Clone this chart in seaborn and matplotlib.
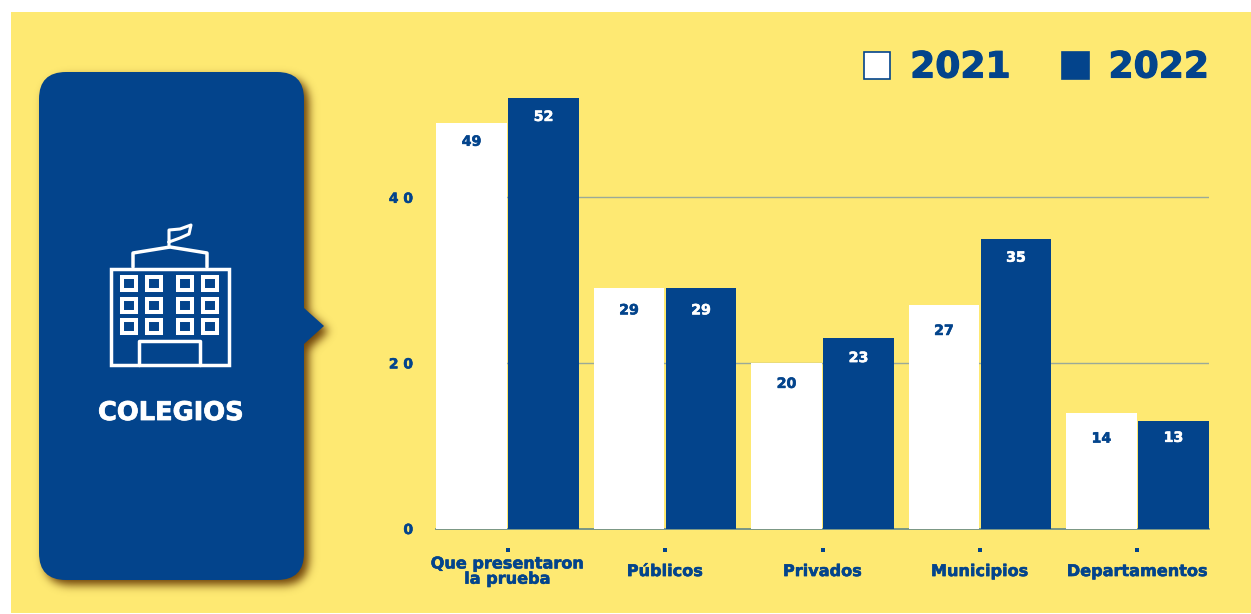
import numpy as np
import pandas as pd
import matplotlib
matplotlib.use("Agg")
import matplotlib.pyplot as plt
import matplotlib.patheffects as pe
import seaborn as sns
from matplotlib.patches import Patch, PathPatch, Rectangle
from matplotlib.path import Path

categories = ["Que presentaron\nla prueba", "Públicos", "Privados", "Municipios", "Departamentos"]
values_2021 = [49, 29, 20, 27, 14]
values_2022 = [52, 29, 23, 35, 13]
years = ["2021", "2022"]
y_ticks = [0, 20, 40]
y_tick_labels = ["0", "2 0", "4 0"]

# Drop of each value label below its bar top, in pixels
label_drop_2021 = [19, 22, 21, 26, 26]
label_drop_2022 = [19, 22, 20, 19, 17]

YELLOW = "#FEE972"
BLUE = "#03448C"
GRID = "#9BAA98"
BASELINE = "#6F9088"
FONT = "DejaVu Sans"
W, H = 1251, 614

sns.set_theme(style="white")
plt.rcParams["font.family"] = [FONT]


def heavy(colour, width=0.5):
    """Thicken glyphs with a thin outline in their own colour."""
    return [pe.withStroke(linewidth=width, foreground=colour)]


fig = plt.figure(figsize=(W / 100, H / 100), dpi=100, facecolor="white")

# Backdrop layer, addressed in pixels from the top-left corner
bg = fig.add_axes([0, 0, 1, 1], zorder=0)
bg.set_xlim(0, W)
bg.set_ylim(H, 0)
bg.axis("off")
bg.add_patch(Rectangle((11, 12), W - 11, 601, facecolor=YELLOW, edgecolor="none"))


def panel_path(x0=39, x1=304, y0=72, y1=580, r=27):
    """Rounded card with a small pointer on its right edge."""
    verts = [
        (x0 + r, y0), (x1 - r, y0), (x1, y0), (x1, y0 + r),
        (x1, 308), (324, 326), (x1, 344),
        (x1, y1 - r), (x1, y1), (x1 - r, y1),
        (x0 + r, y1), (x0, y1), (x0, y1 - r),
        (x0, y0 + r), (x0, y0), (x0 + r, y0),
    ]
    codes = [
        Path.MOVETO, Path.LINETO, Path.CURVE3, Path.CURVE3,
        Path.LINETO, Path.LINETO, Path.LINETO,
        Path.LINETO, Path.CURVE3, Path.CURVE3,
        Path.LINETO, Path.CURVE3, Path.CURVE3,
        Path.LINETO, Path.CURVE3, Path.CURVE3,
    ]
    return Path(verts, codes)


# Soft drop shadow: rasterised card shape, blurred and shifted
card = panel_path()
gx, gy = np.meshgrid(np.arange(W) + 0.5 - 5, np.arange(H) + 0.5 - 5)
mask = card.contains_points(np.c_[gx.ravel(), gy.ravel()]).reshape(H, W).astype(float)
kernel = np.exp(-0.5 * (np.arange(-15, 16) / 4.5) ** 2)
kernel /= kernel.sum()
mask = np.apply_along_axis(lambda v: np.convolve(v, kernel, mode="same"), 0, mask)
mask = np.apply_along_axis(lambda v: np.convolve(v, kernel, mode="same"), 1, mask)
shadow = np.zeros((H, W, 4))
shadow[..., :3] = matplotlib.colors.to_rgb("#6E4208")
shadow[..., 3] = mask
bg.imshow(shadow, extent=(0, W, H, 0), aspect="auto", zorder=1, interpolation="nearest")
bg.set_xlim(0, W)
bg.set_ylim(H, 0)
bg.add_patch(PathPatch(card, facecolor=BLUE, edgecolor="none", zorder=2))

# School building icon
icon = dict(color="white", lw=2.5, zorder=3, solid_joinstyle="round", solid_capstyle="round")
bg.add_patch(Rectangle((111, 269), 118, 96, fill=False, edgecolor="white", lw=2.5, zorder=3))
bg.plot([133, 133, 170, 207, 207], [267, 253, 247, 253, 267], **icon)
bg.plot([169, 169, 180, 191, 189, 180, 169], [247, 230, 229, 225, 234, 238, 242], color="white",
        lw=2.2, zorder=3, solid_joinstyle="round", solid_capstyle="round")
for wx in (122, 147, 178, 203):
    for wy in (277, 299, 320):
        bg.add_patch(Rectangle((wx, wy), 14, 13, fill=False, edgecolor="white", lw=2.9, zorder=3))
bg.plot([139, 139, 200, 200], [365, 341, 341, 365], **icon)
bg.text(171, 413, "COLEGIOS", color="white", fontsize=18.5, fontweight="bold",
        ha="center", va="center", zorder=3, path_effects=heavy("white", 0.6))

# Grouped bar chart
table = pd.DataFrame({
    "categoria": categories * 2,
    "valor": values_2021 + values_2022,
    "anio": [years[0]] * len(categories) + [years[1]] * len(categories),
})

ax = fig.add_axes([436 / W, (H - 528.5) / H, (1209 - 436) / W, 447 / H], zorder=1)
ax.patch.set_alpha(0)
sns.barplot(data=table, x="categoria", y="valor", hue="anio", order=categories, hue_order=years,
            palette={years[0]: "white", years[1]: BLUE}, width=0.915, gap=0.02,
            saturation=1, errorbar=None, legend=False, linewidth=0, ax=ax, zorder=3)
ax.set_xlim(-0.4545, 4.4545)
ax.set_ylim(0, 447 / 8.28)
ax.set_xlabel("")
ax.set_ylabel("")
sns.despine(ax=ax, left=True, top=True, right=True)
ax.spines["bottom"].set_color(BASELINE)
ax.spines["bottom"].set_linewidth(1.3)
ax.spines["bottom"].set_zorder(2)

ax.set_yticks(y_ticks, y_tick_labels, color=BLUE, fontsize=10, fontweight="bold")
ax.tick_params(axis="y", length=0, pad=16.5)
ax.set_axisbelow(True)
for tick in y_ticks[1:]:
    ax.axhline(tick, color=GRID, lw=1.0, zorder=1)

ax.set_xticks(range(len(categories)), categories, color=BLUE, fontsize=11.6, fontweight="bold",
              va="center", linespacing=1.02)
ax.tick_params(axis="x", length=0, pad=31)
for label in ax.get_xticklabels():
    label.set_path_effects(heavy(BLUE, 0.4))
for label in ax.get_yticklabels():
    label.set_path_effects(heavy(BLUE, 0.4))
ax.scatter(range(len(categories)), [-2.55] * len(categories), marker="s", s=7, color=BLUE,
           linewidths=0, clip_on=False)

# Value labels sit just inside the top of each bar
series = zip(ax.containers, (values_2021, values_2022), (label_drop_2021, label_drop_2022), (BLUE, "white"))
for bars, vals, drops, colour in series:
    for bar, val, drop in zip(bars, vals, drops):
        ax.annotate(f"{val}", (bar.get_x() + bar.get_width() / 2, val), xytext=(0, -drop * 0.72),
                    textcoords="offset points", ha="center", va="center",
                    color=colour, fontsize=10.2, fontweight="bold", zorder=4,
                    path_effects=heavy(colour, 0.4))

handles = [Patch(facecolor="white", edgecolor=BLUE, lw=1.2, label=years[0]),
           Patch(facecolor=BLUE, edgecolor=BLUE, lw=1.2, label=years[1])]
legend = ax.legend(handles=handles, ncols=2, frameon=False, loc="center right",
                   bbox_to_anchor=(1209 / W, 1 - 67.5 / H), bbox_transform=fig.transFigure,
                   handlelength=0.74, handleheight=0.74, handletextpad=0.55, columnspacing=1.42,
                   borderpad=0, borderaxespad=0,
                   prop={"family": FONT, "weight": "bold", "size": 26})
for text in legend.get_texts():
    text.set_color(BLUE)
    text.set_path_effects(heavy(BLUE, 0.8))
for patch in legend.get_patches():
    patch.set_y(patch.get_y() - 0.5)

fig.savefig("out.png", dpi=100, facecolor="white")
